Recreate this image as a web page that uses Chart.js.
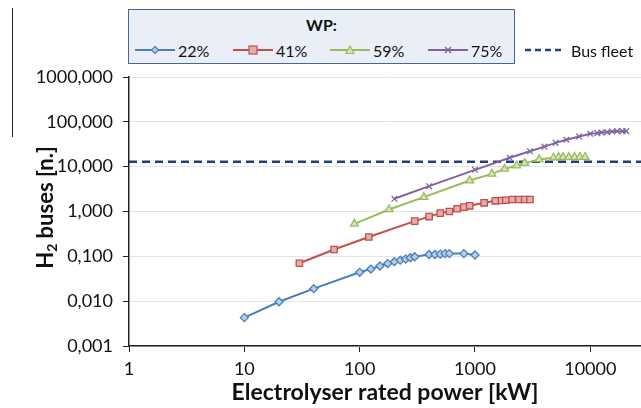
<!DOCTYPE html>
<html lang="en">
<head>
    <meta charset="UTF-8">
    <title>H2 buses vs electrolyser rated power</title>
    <style>
        body { margin: 0; background: #fff; font-family: Lato, sans-serif; }
        #wrap { position: relative; width: 641px; height: 408px; overflow: hidden; }
        #chart { position: absolute; left: 0; top: 0; }
        #edge { position: absolute; left: 12px; top: 8px; height: 129px; border-left: 1.5px solid #222; }
        #legendBox { position: absolute; left: 128px; top: 9px; width: 387px; height: 55px; box-sizing: border-box;
                     background: #e9eef7; border: 1.5px solid #45679e; }
        #legendBox .title { position: absolute; left: 0; right: 0; top: 5px; text-align: center; font-weight: bold; font-size: 16px; color: #111; }
        .item { position: absolute; top: 40px; height: 20px; display: flex; align-items: center; font-size: 16px; color: #111; white-space: nowrap; }
        .item svg { margin-right: 3px; }
    </style>
    <script src="https://cdn.jsdelivr.net/npm/chart.js"></script>
</head>
<body>
<div id="wrap">
    <canvas id="chart" width="641" height="408"></canvas>
    <div id="edge"></div>
    <div id="legendBox"><div class="title">WP:</div></div>
</div>
<script>
    // data (x in kW, y in n. of buses)
    const x22 = [10, 20, 40, 100, 125, 150, 175, 200, 225, 250, 275, 300, 400, 450, 500, 550, 600, 800, 1000];
    const y22 = [0.0043, 0.0097, 0.019, 0.044, 0.052, 0.061, 0.069, 0.076, 0.082, 0.087, 0.093, 0.098, 0.110, 0.110, 0.112, 0.115, 0.115, 0.115, 0.107];

    const x41 = [30, 60, 120, 300, 400, 500, 600, 700, 800, 900, 1200, 1500, 1700, 1850, 2100, 2400, 2700, 3000];
    const y41 = [0.070, 0.142, 0.27, 0.61, 0.77, 0.92, 1.0, 1.15, 1.25, 1.34, 1.56, 1.73, 1.76, 1.78, 1.85, 1.85, 1.85, 1.85];

    const x59 = [90, 180, 360, 900, 1400, 1800, 2300, 2700, 3600, 4800, 5300, 5800, 6500, 7300, 8100, 9000];
    const y59 = [0.53, 1.11, 2.09, 4.9, 6.9, 8.9, 10.6, 12.0, 14.5, 15.8, 16.3, 16.3, 16.3, 16.3, 16.3, 16.3];

    const x75 = [200, 400, 1000, 2000, 3000, 4000, 5000, 6200, 8000, 10000, 11500, 12500, 14000, 15500, 17000, 19000, 20500];
    const y75 = [1.92, 3.67, 8.5, 15.8, 22, 28, 34, 40, 47, 54, 56, 58, 59, 61, 62, 62, 62];

    const seriesNames = ['22%', '41%', '59%', '75%'];
    const busFleetLabel = 'Bus fleet';
    const busFleetX = [1, 27500];
    const busFleetY = [12.8, 12.8];

    const xTickValues = [1, 10, 100, 1000, 10000];
    const xTickLabels = ['1', '10', '100', '1000', '10000'];
    const yTickValues = [0.001, 0.01, 0.1, 1, 10, 100, 1000];
    const yTickLabels = ['0,001', '0,010', '0,100', '1,000', '10,000', '100,000', '1000,000'];

    const xTitle = 'Electrolyser rated power [kW]';

    function pts(xs, ys) {
        return xs.map((v, i) => ({ x: v, y: ys[i] }));
    }

    const styles = [
        { line: '#4a7ebb', fill: '#b9cde5', shape: 'rectRot', r: 4 },
        { line: '#c0504d', fill: '#e3aeac', shape: 'rect', r: 4.5 },
        { line: '#9bbb59', fill: '#d7e4bd', shape: 'triangle', r: 4.5 },
        { line: '#8064a2', fill: '#8064a2', shape: 'crossRot', r: 4 }
    ];
    const seriesData = [pts(x22, y22), pts(x41, y41), pts(x59, y59), pts(x75, y75)];

    const datasets = seriesData.map((d, i) => ({
        label: seriesNames[i],
        data: d,
        borderColor: styles[i].line,
        backgroundColor: styles[i].fill,
        pointBorderColor: styles[i].line,
        pointBackgroundColor: styles[i].fill,
        pointStyle: styles[i].shape,
        pointRadius: styles[i].r,
        pointBorderWidth: 1.3,
        borderWidth: 2,
        tension: 0
    }));
    datasets.push({
        label: busFleetLabel,
        data: pts(busFleetX, busFleetY),
        borderColor: '#1f3f80',
        borderDash: [8, 5],
        borderWidth: 2.5,
        pointRadius: 0
    });

    // y title with subscript 2
    const yTitlePlugin = {
        id: 'yTitle',
        afterDraw(chart) {
            const ctx = chart.ctx;
            const area = chart.chartArea;
            const big = 'bold 22px Lato';
            const small = 'bold 14px Lato';
            ctx.save();
            ctx.fillStyle = '#111';
            ctx.textBaseline = 'middle';
            ctx.font = big;
            const wH = ctx.measureText('H').width;
            const wRest = ctx.measureText(' buses [n.]').width;
            ctx.font = small;
            const w2 = ctx.measureText('2').width;
            const total = wH + w2 + wRest;
            ctx.translate(46, (area.top + area.bottom) / 2 - 4);
            ctx.rotate(-Math.PI / 2);
            let x = -total / 2;
            ctx.font = big;
            ctx.textAlign = 'left';
            ctx.fillText('H', x, 0);
            x += wH;
            ctx.font = small;
            ctx.fillText('2', x, 6);
            x += w2;
            ctx.font = big;
            ctx.fillText(' buses [n.]', x, 0);
            ctx.restore();
        }
    };

    Chart.defaults.font.family = 'Lato';
    Chart.defaults.color = '#111';

    new Chart(document.getElementById('chart').getContext('2d'), {
        type: 'line',
        data: { datasets: datasets },
        options: {
            responsive: false,
            animation: false,
            layout: { autoPadding: false, padding: { top: 77, right: 0, left: 0, bottom: 0 } },
            plugins: { legend: { display: false }, tooltip: { enabled: false } },
            scales: {
                x: {
                    type: 'logarithmic',
                    min: 1,
                    max: 27500,
                    afterBuildTicks: s => { s.ticks = xTickValues.map(v => ({ value: v })); },
                    afterFit: s => { s.height = 62; },
                    ticks: {
                        font: { size: 18 },
                        padding: 6,
                        maxRotation: 0,
                        callback: (v) => xTickLabels[xTickValues.indexOf(v)]
                    },
                    grid: { drawOnChartArea: false, tickLength: 6, tickColor: '#222' },
                    border: { color: '#222', width: 1.5 },
                    title: { display: true, text: xTitle, font: { size: 23, weight: 'bold' }, padding: { top: 0, bottom: 2 } }
                },
                y: {
                    type: 'logarithmic',
                    min: 0.001,
                    max: 1000,
                    afterBuildTicks: s => { s.ticks = yTickValues.map(v => ({ value: v })); },
                    afterFit: s => { s.width = 129; },
                    ticks: {
                        font: { size: 18 },
                        padding: 10,
                        callback: (v) => yTickLabels[yTickValues.indexOf(v)]
                    },
                    grid: { color: '#e4e4e4', lineWidth: 1, tickLength: 6, tickColor: '#222' },
                    border: { color: '#222', width: 1.5 }
                }
            }
        },
        plugins: [yTitlePlugin]
    });

    // legend (HTML), built from the same names and styles
    function markerSvg(st) {
        const c = 'stroke="' + st.line + '"';
        let m = '';
        if (st.shape === 'rectRot') m = '<polygon points="20,2.5 23.5,6 20,9.5 16.5,6" fill="' + st.fill + '" ' + c + ' stroke-width="1.2"/>';
        if (st.shape === 'rect') m = '<rect x="16" y="2" width="8" height="8" fill="' + st.fill + '" ' + c + ' stroke-width="1.2"/>';
        if (st.shape === 'triangle') m = '<polygon points="20,2 24,9.5 16,9.5" fill="' + st.fill + '" ' + c + ' stroke-width="1.2"/>';
        if (st.shape === 'crossRot') m = '<path d="M17,3 L23,9 M23,3 L17,9" ' + c + ' stroke-width="1.3"/>';
        return '<svg width="40" height="12"><line x1="0" y1="6" x2="40" y2="6" ' + c + ' stroke-width="2"/>' + m + '</svg>';
    }
    const legendLeft = [135, 233, 330, 428];
    const wrap = document.getElementById('wrap');
    seriesNames.forEach((name, i) => {
        const el = document.createElement('div');
        el.className = 'item';
        el.style.left = legendLeft[i] + 'px';
        el.innerHTML = markerSvg(styles[i]) + '<span>' + name + '</span>';
        wrap.appendChild(el);
    });
    const bus = document.createElement('div');
    bus.className = 'item';
    bus.style.left = '525px';
    bus.innerHTML = '<svg width="38" height="12"><line x1="0" y1="6" x2="38" y2="6" stroke="#1f3f80" stroke-width="2.5" stroke-dasharray="6,4"/></svg><span style="margin-left:5px">' + busFleetLabel + '</span>';
    wrap.appendChild(bus);
</script>
</body>
</html>
